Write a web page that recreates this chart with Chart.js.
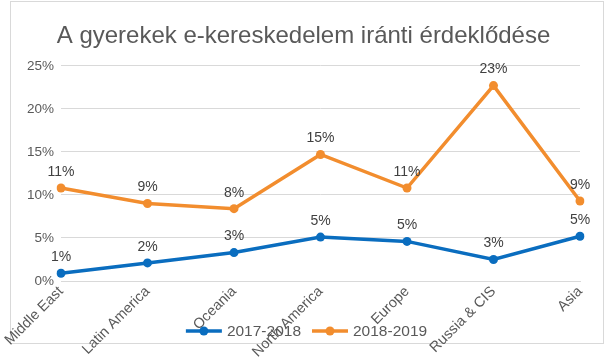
<!DOCTYPE html>
<html>
<head>
<meta charset="utf-8">
<script src="https://cdn.jsdelivr.net/npm/chart.js@4.4.1/dist/chart.umd.min.js"></script>
<style>
  html, body { margin: 0; padding: 0; background: #fff; }
  #wrap { position: relative; width: 607px; height: 363px; }
</style>
</head>
<body>
<div id="wrap"><canvas id="lineChart" width="607" height="363"></canvas></div>
<script>
const regions = ['Middle East', 'Latin America', 'Oceania', 'North America', 'Europe', 'Russia & CIS', 'Asia'];
const series2017 = [0.9, 2.1, 3.3, 5.1, 4.6, 2.5, 5.2];
const series2018 = [10.8, 9.0, 8.4, 14.7, 10.8, 22.7, 9.3];
const seriesLabels = ['2017-2018', '2018-2019'];
const yTicks = [0, 5, 10, 15, 20, 25];

const BLUE = '#0A6DBF';
const ORANGE = '#F28D2E';
const FONT = '"Liberation Sans", Arial, sans-serif';

// frame around the whole chart, like the Excel chart border
const framePlugin = {
    id: 'frame',
    beforeDraw(chart) {
        const ctx = chart.ctx;
        ctx.save();
        ctx.fillStyle = '#fff';
        ctx.fillRect(0, 0, chart.width, chart.height);
        ctx.strokeStyle = '#D9D9D9';
        ctx.lineWidth = 1;
        ctx.strokeRect(10.5, 1.5, 593, 342);
        ctx.restore();
    }
};

// value labels above each point
const valueLabels = {
    id: 'valueLabels',
    afterDatasetsDraw(chart) {
        const ctx = chart.ctx;
        ctx.save();
        ctx.font = '14px ' + FONT;
        ctx.fillStyle = '#404040';
        ctx.textAlign = 'center';
        ctx.textBaseline = 'middle';
        chart.data.datasets.forEach((ds, i) => {
            chart.getDatasetMeta(i).data.forEach((pt, j) => {
                ctx.fillText(Math.round(ds.data[j]) + '%', pt.x, pt.y - 16);
            });
        });
        ctx.restore();
    }
};

// legend drawn over the bottom, overlapping the rotated labels as in the original
const bottomLegend = {
    id: 'bottomLegend',
    afterDraw(chart) {
        const ctx = chart.ctx;
        const y = 331;
        ctx.save();
        ctx.font = '15.5px ' + FONT;
        ctx.textBaseline = 'middle';
        const items = chart.data.datasets.map(ds => ({
            text: ds.label, color: ds.borderColor, w: 36 + 5 + ctx.measureText(ds.label).width
        }));
        const gap = 11;
        const total = items.reduce((s, it) => s + it.w, 0) + gap * (items.length - 1);
        let x = (chart.width - total) / 2 + 3;
        items.forEach(it => {
            ctx.strokeStyle = it.color;
            ctx.lineWidth = 3.5;
            ctx.beginPath();
            ctx.moveTo(x, y);
            ctx.lineTo(x + 36, y);
            ctx.stroke();
            ctx.fillStyle = it.color;
            ctx.beginPath();
            ctx.arc(x + 18, y, 4.5, 0, Math.PI * 2);
            ctx.fill();
            ctx.fillStyle = '#595959';
            ctx.textAlign = 'left';
            ctx.fillText(it.text, x + 41, y + 1);
            x += it.w + gap;
        });
        ctx.restore();
    }
};

const ctx = document.getElementById('lineChart').getContext('2d');
new Chart(ctx, {
    type: 'line',
    data: {
        labels: regions,
        datasets: [{
            label: seriesLabels[0],
            data: series2017,
            borderColor: BLUE,
            backgroundColor: BLUE,
            borderWidth: 3.5,
            pointRadius: 4.5,
            pointBorderWidth: 0,
            tension: 0
        }, {
            label: seriesLabels[1],
            data: series2018,
            borderColor: ORANGE,
            backgroundColor: ORANGE,
            borderWidth: 3.5,
            pointRadius: 4.5,
            pointBorderWidth: 0,
            tension: 0
        }]
    },
    options: {
        responsive: false,
        animation: false,
        devicePixelRatio: 1,
        layout: { padding: 0 },
        plugins: {
            legend: { display: false },
            tooltip: { enabled: false },
            title: {
                display: true,
                text: 'A gyerekek e-kereskedelem iránti érdeklődése',
                color: '#595959',
                font: { family: FONT, size: 24, weight: 'normal' },
                padding: { top: 22, bottom: 15 }
            }
        },
        scales: {
            x: {
                offset: false,
                grid: { display: false, drawTicks: false },
                border: { display: true, color: '#D9D9D9', width: 1 },
                ticks: {
                    color: '#595959',
                    font: { family: FONT, size: 14.5 },
                    minRotation: 45,
                    maxRotation: 45,
                    padding: 2
                },
                afterFit: s => { s.height = 82; s.paddingLeft = 0; s.paddingRight = 27; }
            },
            y: {
                min: 0,
                max: 25,
                afterBuildTicks: scale => { scale.ticks = yTicks.map(v => ({ value: v })); },
                grid: { color: '#D9D9D9', drawTicks: false },
                border: { display: false },
                ticks: {
                    color: '#595959',
                    font: { family: FONT, size: 13.5 },
                    padding: 7,
                    callback: v => v + '%'
                },
                afterFit: s => { s.width = 61; }
            }
        }
    },
    plugins: [framePlugin, valueLabels, bottomLegend]
});
</script>
</body>
</html>
